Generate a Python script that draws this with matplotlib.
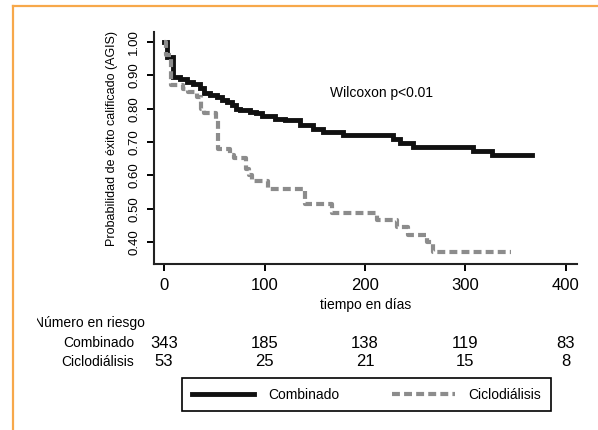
import matplotlib
matplotlib.use("Agg")
import matplotlib.pyplot as plt
import matplotlib.transforms as mtransforms
from matplotlib.lines import Line2D

plt.rcParams.update({
    "font.family": ["Liberation Sans", "DejaVu Sans"],
    "axes.spines.top": False, "axes.spines.right": False,
})

# ---- data -------------------------------------------------------------------
comb_t = [0, 3, 9, 16, 23, 29, 36, 40, 46, 53, 58, 63, 68, 72, 76, 86, 92, 97,
          110, 120, 135, 148, 158, 178, 228, 235, 248, 307, 326, 366]
comb_s = [1.00, 0.955, 0.895, 0.888, 0.88, 0.875, 0.862, 0.848, 0.84, 0.835,
          0.826, 0.82, 0.81, 0.80, 0.796, 0.79, 0.787, 0.777, 0.77, 0.765,
          0.752, 0.74, 0.73, 0.722, 0.71, 0.697, 0.685, 0.672, 0.66, 0.66]

cicl_t = [0, 2, 7, 19, 24, 33, 37, 40, 52, 54, 66, 70, 82, 85, 88, 103, 140,
          167, 212, 232, 243, 262, 268, 345]
cicl_s = [1.00, 0.96, 0.87, 0.86, 0.85, 0.835, 0.80, 0.787, 0.765, 0.678,
          0.66, 0.652, 0.62, 0.60, 0.583, 0.558, 0.513, 0.487, 0.466, 0.445,
          0.42, 0.40, 0.37, 0.37]

risk_times = [0, 100, 200, 300, 400]
risk_comb = [343, 185, 138, 119, 83]
risk_cicl = [53, 25, 21, 15, 8]

yticks = [0.40, 0.50, 0.60, 0.70, 0.80, 0.90, 1.00]
xticks = [0, 100, 200, 300, 400]

W, H = 598, 430
fig = plt.figure(figsize=(W / 100, H / 100), dpi=100)
ax = fig.add_axes([154 / W, 1 - 264 / H, (577 - 154) / W, (264 - 32) / H])

ax.step(comb_t, comb_s, where="post", color="#111111", lw=3.5,
        solid_joinstyle="miter", label="Combinado")
ax.step(cicl_t, cicl_s, where="post", color="#8c8c8c", lw=3.0,
        linestyle=(0, (1.9, 1.0)), label="Ciclodiálisis")

ax.set_xlim(-10, 411)
ax.set_ylim(0.334, 1.03)
ax.set_xticks(xticks)
ax.set_yticks(yticks)
ax.set_yticklabels([f"{v:.2f}" for v in yticks])
ax.tick_params(axis="x", labelsize=12, length=5, width=1.4, pad=5)
ax.tick_params(axis="y", labelsize=9.5, length=5, width=1.4, pad=5,
               labelrotation=90)
for lab in ax.get_yticklabels():
    lab.set_va("center")
for sp in ("left", "bottom"):
    ax.spines[sp].set_linewidth(1.5)
    ax.spines[sp].set_color("#222222")

ax.set_ylabel("Probabilidad de éxito calificado (AGIS)", fontsize=9)
ax.yaxis.set_label_coords(-0.085, 0.54)
ax.set_xlabel("tiempo en días", fontsize=10, va="top")
ax.xaxis.set_label_coords(0.5, -0.145)

ax.text(165, 0.847, "Wilcoxon p<0.01", fontsize=10, va="center", ha="left")

# ---- number at risk ----------------------------------------------------------
tr = mtransforms.blended_transform_factory(ax.transData, fig.transFigure)
t = fig.text(34 / W, 1 - 323 / H, "Número en riesgo", fontsize=10,
             va="center", ha="left")
t.set_clip_box(mtransforms.TransformedBbox(
    mtransforms.Bbox([[36.5 / W, 0], [1, 1]]), fig.transFigure))
t.set_clip_on(True)
fig.text(134 / W, 1 - 343 / H, "Combinado", fontsize=10, va="center", ha="right")
fig.text(134 / W, 1 - 362 / H, "Ciclodiálisis", fontsize=10, va="center",
         ha="right")
for x, a, b in zip(risk_times, risk_comb, risk_cicl):
    ax.text(x, 1 - 344 / H, str(a), transform=tr, fontsize=12,
            ha="center", va="center", clip_on=False)
    ax.text(x, 1 - 362 / H, str(b), transform=tr, fontsize=12,
            ha="center", va="center", clip_on=False)

# ---- legend -----------------------------------------------------------------
handles, labels = ax.get_legend_handles_labels()
leg = fig.legend(handles, labels, loc="upper left", ncol=2,
                 bbox_to_anchor=(182 / W, 1 - 378 / H),
                 bbox_transform=fig.transFigure, borderaxespad=0,
                 fontsize=10, handlelength=4.5, handletextpad=1.0,
                 columnspacing=3.8, borderpad=0.7, fancybox=False,
                 framealpha=1)
leg.get_frame().set_edgecolor("black")
leg.get_frame().set_linewidth(1.2)

# orange frame around the figure (top and left edges visible)
orange = "#f7a84a"
fig.add_artist(Line2D([13.3 / W, 1], [1 - 5.5 / H, 1 - 5.5 / H],
                      transform=fig.transFigure, color=orange, lw=1.6))
fig.add_artist(Line2D([13.3 / W, 13.3 / W], [0, 1 - 5.5 / H],
                      transform=fig.transFigure, color=orange, lw=1.6))

fig.savefig("out.png", dpi=100)
